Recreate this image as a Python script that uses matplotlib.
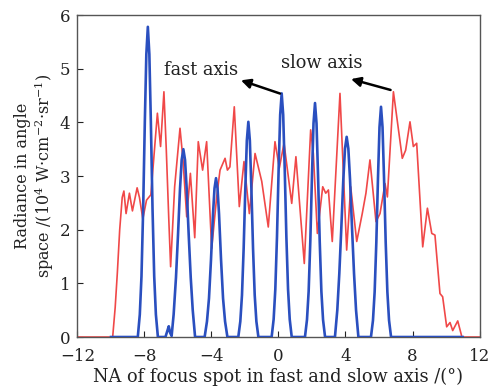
import matplotlib
matplotlib.use("Agg")
import matplotlib.pyplot as plt

# Red curve: slow axis
red_x = [-12, -9.9, -9.75, -9.62, -9.48, -9.33, -9.23, -9.1, -8.9, -8.72, -8.44, -8.3, -8.1,
         -7.88, -7.62, -7.23, -7.04, -6.84, -6.7, -6.55, -6.44, -6.2, -5.88, -5.7, -5.48,
         -5.26, -5.0, -4.79, -4.53, -4.29, -3.99, -3.69, -3.49, -3.19, -3.05, -2.9, -2.64,
         -2.34, -2.06, -1.74, -1.40, -1.0, -0.61, -0.21, 0.05, 0.33, 0.79, 1.04, 1.54, 1.92,
         2.08, 2.32, 2.64, 2.82, 2.98, 3.21, 3.67, 4.07, 4.31, 4.67, 5.0, 5.22, 5.46, 5.82,
         6.06, 6.36, 6.50, 6.86, 7.39, 7.59, 7.85, 8.05, 8.25, 8.61, 8.89, 9.15, 9.34, 9.64,
         9.80, 10.04, 10.24, 10.40, 10.70, 10.95, 12]
red_y = [0, 0, 0.55, 1.2, 2.0, 2.6, 2.72, 2.3, 2.68, 2.35, 2.78, 2.6, 2.2,
         2.55, 2.65, 4.17, 3.55, 4.57, 3.5, 2.2, 1.31, 2.8, 3.89, 3.3, 2.24,
         3.05, 1.85, 3.64, 3.11, 3.64, 1.65, 2.61, 3.11, 3.33, 3.11, 3.17, 4.29,
         2.43, 3.27, 2.30, 3.42, 2.9, 2.05, 3.64, 3.15, 3.61, 2.49, 3.36, 1.37, 3.86,
         3.42, 1.93, 2.80, 2.68, 2.74, 1.78, 4.54, 1.62, 2.80, 1.78, 2.3, 2.68, 3.30, 2.15,
         2.30, 2.86, 2.61, 4.57, 3.33, 3.48, 4.01, 3.55, 3.61, 1.68, 2.40, 1.93, 1.90, 0.81,
         0.75, 0.19, 0.27, 0.12, 0.30, 0.0, 0]

# Blue curve: fast axis
blue_x = [-10.0,
          -8.40, -8.28, -8.18, -8.08, -7.98, -7.89, -7.80, -7.71, -7.62, -7.52, -7.42, -7.32, -7.20,
          -6.75, -6.63, -6.55, -6.47,
          -6.38, -6.26, -6.12, -6.00, -5.88, -5.78, -5.68, -5.58, -5.48, -5.36, -5.24, -5.12, -4.98,
          -4.41, -4.27, -4.15, -4.03, -3.91, -3.82, -3.73, -3.64, -3.55, -3.43, -3.31, -3.19, -3.05,
          -2.40, -2.28, -2.18, -2.08, -1.98, -1.89, -1.80, -1.71, -1.62, -1.52, -1.42, -1.32, -1.20,
          -0.41, -0.29, -0.19, -0.09, 0.01, 0.10, 0.19, 0.28, 0.37, 0.47, 0.57, 0.67, 0.79,
          1.58, 1.70, 1.80, 1.90, 2.00, 2.09, 2.18, 2.27, 2.36, 2.46, 2.56, 2.66, 2.78,
          3.37, 3.51, 3.63, 3.75, 3.87, 3.97, 4.07, 4.17, 4.27, 4.39, 4.51, 4.63, 4.77,
          5.52, 5.64, 5.74, 5.84, 5.94, 6.03, 6.12, 6.21, 6.30, 6.40, 6.50, 6.60, 6.72,
          11.0]
blue_y = [0,
          0, 0.42, 1.13, 2.38, 4.01, 5.27, 5.78, 5.27, 4.01, 2.38, 1.13, 0.42, 0,
          0, 0.12, 0.2, 0.08,
          0.02, 0.42, 1.11, 1.90, 2.76, 3.30, 3.50, 3.30, 2.76, 1.90, 1.11, 0.50, 0,
          0, 0.29, 0.72, 1.44, 2.29, 2.77, 2.96, 2.77, 2.29, 1.44, 0.72, 0.29, 0,
          0, 0.29, 0.78, 1.65, 2.78, 3.66, 4.01, 3.66, 2.78, 1.65, 0.78, 0.29, 0,
          0, 0.33, 0.89, 1.87, 3.15, 4.14, 4.54, 4.14, 3.15, 1.87, 0.89, 0.33, 0,
          0, 0.32, 0.85, 1.79, 3.02, 3.98, 4.36, 3.98, 3.02, 1.79, 0.85, 0.32, 0,
          0, 0.50, 1.18, 2.03, 2.94, 3.51, 3.73, 3.51, 2.94, 2.03, 1.18, 0.50, 0,
          0, 0.31, 0.84, 1.76, 2.97, 3.91, 4.29, 3.91, 2.97, 1.76, 0.84, 0.31, 0,
          0]

x_ticks = [-12, -8, -4, 0, 4, 8, 12]
x_ticklabels = ["\u221212", "\u22128", "\u22124", "0", "4", "8", "12"]
y_ticks = [0, 1, 2, 3, 4, 5, 6]

plt.rcParams['font.family'] = ['DejaVu Serif']
plt.rcParams['mathtext.fontset'] = 'dejavuserif'

fig = plt.figure(figsize=(4.92, 3.88), dpi=100)
ax = fig.add_axes([0.1575, 0.1314, 0.8171, 0.8299])

ax.plot(red_x, red_y, color='#f04848', lw=1.2, zorder=2)
ax.plot(blue_x, blue_y, color='#2a4fbf', lw=1.9, zorder=3)

ax.set_xlim(-12, 12)
ax.set_ylim(0, 6)
ax.set_xticks(x_ticks)
ax.set_xticklabels(x_ticklabels)
ax.set_yticks(y_ticks)
ax.tick_params(direction='in', length=4, width=0.8, labelsize=12, colors='#222222')
ax.tick_params(axis='x', pad=8)
ax.tick_params(axis='y', pad=5)
for s in ax.spines.values():
    s.set_color('#555555')
    s.set_linewidth(1.0)

ax.set_xlabel("NA of focus spot in fast and slow axis /(\u00b0)", fontsize=12.8, labelpad=2, color='#222222')
ax.set_ylabel("Radiance in angle\nspace /(10$^4$ W\u00b7cm$^{-2}$\u00b7sr$^{-1}$)", fontsize=11.5,
              labelpad=3, color='#222222', linespacing=1.1)

ax.annotate("", xy=(-2.4, 4.8), xytext=(0.25, 4.52),
            arrowprops=dict(arrowstyle='-|>', color='black', lw=1.8, mutation_scale=14))
ax.text(-4.6, 4.97, "fast axis", ha='center', va='center', fontsize=12.8, color='#222222')
ax.annotate("", xy=(4.17, 4.82), xytext=(6.85, 4.59),
            arrowprops=dict(arrowstyle='-|>', color='black', lw=1.8, mutation_scale=14))
ax.text(2.57, 5.1, "slow axis", ha='center', va='center', fontsize=12.8, color='#222222')

fig.savefig("out.png", dpi=100)
